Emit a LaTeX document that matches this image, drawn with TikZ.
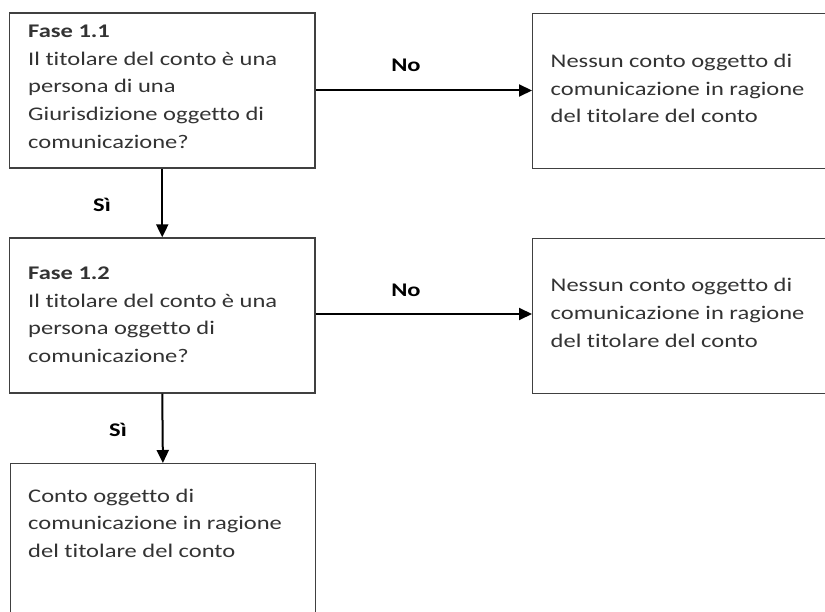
\documentclass[tikz,border=0pt]{standalone}
\usepackage{fontspec}
\setmainfont{Carlito}[Ligatures=NoCommon, FakeStretch=1.27]
\usetikzlibrary{arrows.meta}
\definecolor{boxline}{HTML}{404040}
\definecolor{txt}{HTML}{333333}
\newcommand{\txtline}[1]{\hbox{#1}}
\tikzset{
  x=1pt, y=-1pt,
  boxnode/.style={draw=boxline, line width=1.3pt, rectangle, inner sep=0pt},
  txtnode/.style={anchor=base west, inner sep=0pt, text=txt,
    font=\fontsize{19.3}{27.75}\selectfont},
  lbl/.style={anchor=base, inner sep=0pt, text=black, font=\fontsize{19.3}{24}\selectfont\bfseries},
  flow/.style={draw=black, line width=2pt, -{Triangle[length=13pt,width=12pt]}}
}
\begin{document}
\begin{tikzpicture}
\useasboundingbox (0,0) rectangle (825,612);
\clip (0,0) rectangle (825,612);
\fill[white] (0,0) rectangle (825,612);
% boxes
\node[boxnode, minimum width=305.5pt, minimum height=155pt] (A) at (162.25,90.5) {};
\node[boxnode, minimum width=298pt, minimum height=155pt, anchor=north west] (B) at (532,13) {};
\node[boxnode, minimum width=305.5pt, minimum height=155pt] (C) at (162.25,315.5) {};
\node[boxnode, minimum width=298pt, minimum height=155pt, anchor=north west] (D) at (532,238) {};
\node[boxnode, minimum width=305.5pt, minimum height=160pt, anchor=north west] (E) at (9.5,463) {};
% texts
\node[txtnode] (tA) at (28,37.3) {\vtop{\txtline{\textbf{Fase 1.1}}\txtline{Il titolare del conto è una}\txtline{persona di una}\txtline{Giurisdizione oggetto di}\txtline{comunicazione?}}};
\node[txtnode] (tB) at (550.5,67.3) {\vtop{\txtline{Nessun conto oggetto di}\txtline{comunicazione in ragione}\txtline{del titolare del conto}}};
\node[txtnode] (tC) at (28,279.3) {\vtop{\txtline{\textbf{Fase 1.2}}\txtline{Il titolare del conto è una}\txtline{persona oggetto di}\txtline{comunicazione?}}};
\node[txtnode] (tD) at (550.5,292) {\vtop{\txtline{Nessun conto oggetto di}\txtline{comunicazione in ragione}\txtline{del titolare del conto}}};
\node[txtnode] (tE) at (28,502) {\vtop{\txtline{Conto oggetto di}\txtline{comunicazione in ragione}\txtline{del titolare del conto}}};
% connectors
\draw[flow] (A.east) -- (A.east -| B.west);
\draw[flow] (A.south) -- (C.north);
\draw[flow] (C.east |- 0,314) -- (D.west |- 0,314);
\draw[flow] (C.south) -- (E.north);
% labels
\node[lbl] (n1) at (406,71.7) {No};
\node[lbl] (n2) at (406,297) {No};
\node[lbl] (s1) at (102,211.7) {Sì};
\node[lbl] (s2) at (118,436) {Sì};
\end{tikzpicture}
\end{document}
